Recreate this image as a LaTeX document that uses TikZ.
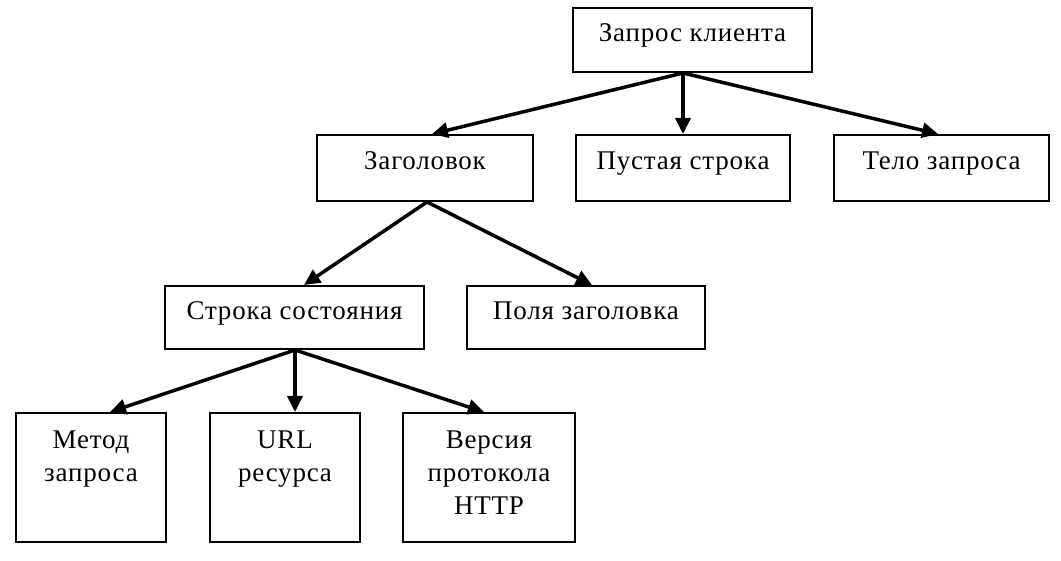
\documentclass[tikz,border=0pt]{standalone}
\usepackage{fontspec}
\setmainfont{Liberation Serif}[LetterSpace=3]
\usetikzlibrary{arrows.meta}
\begin{document}
\begin{tikzpicture}[x=1pt,y=-1pt,
  box/.style={draw, line width=2pt, inner sep=0pt, text height=19pt, text depth=15pt,
    font=\fontsize{27pt}{33pt}\selectfont},
  tallbox/.style={draw, line width=2pt, inner sep=0pt},
  lbl/.style={inner sep=0pt, align=center, anchor=north, font=\fontsize{27pt}{33pt}\selectfont},
  arr/.style={line width=3.5pt, -{Triangle[length=16pt,width=15pt]}}]
\useasboundingbox (0,0) rectangle (1061,561);
% level 0
\node[box, minimum width=239pt, minimum height=64pt] (zk) at (692.5,40) {Запрос клиента};
% level 1
\node[box, minimum width=216pt, minimum height=66pt] (zag) at (425,168) {Заголовок};
\node[box, minimum width=214pt, minimum height=66pt] (pust) at (683,168) {Пустая строка};
\node[box, minimum width=215pt, minimum height=66pt] (telo) at (941.5,168) {Тело запроса};
% level 2
\node[box, minimum width=259pt, minimum height=63pt] (strok) at (294.5,317.5) {Строка состояния};
\node[box, minimum width=238pt, minimum height=63pt] (polya) at (586,317.5) {Поля заголовка};
% level 3
\node[tallbox, minimum width=150pt, minimum height=129pt] (metod) at (91,477.5) {};
\node[tallbox, minimum width=150pt, minimum height=129pt] (url) at (285,477.5) {};
\node[tallbox, minimum width=172pt, minimum height=129pt] (vers) at (489,477.5) {};
\node[lbl] (tmetod) at ([yshift=-19pt]metod.north) {Метод\\запроса};
\node[lbl] (turl) at ([yshift=-19pt]url.north) {URL\\ресурса};
\node[lbl] (tvers) at ([yshift=-19pt]vers.north) {Версия\\протокола\\HTTP};
% connectors
\draw[arr] ([xshift=-9.5pt]zk.south) -- ([xshift=7pt]zag.north);
\draw[arr] ([xshift=-9.5pt]zk.south) -- (pust.north);
\draw[arr] ([xshift=-9.5pt]zk.south) -- ([xshift=-3.5pt]telo.north);
\draw[arr] ([xshift=2pt]zag.south) -- ([xshift=9.5pt]strok.north);
\draw[arr] ([xshift=2pt]zag.south) -- ([xshift=6pt]polya.north);
\draw[arr] ([xshift=0.5pt]strok.south) -- ([xshift=19pt]metod.north);
\draw[arr] ([xshift=0.5pt]strok.south) -- ([xshift=10pt]url.north);
\draw[arr] ([xshift=0.5pt]strok.south) -- ([xshift=-5pt]vers.north);
\end{tikzpicture}
\end{document}
